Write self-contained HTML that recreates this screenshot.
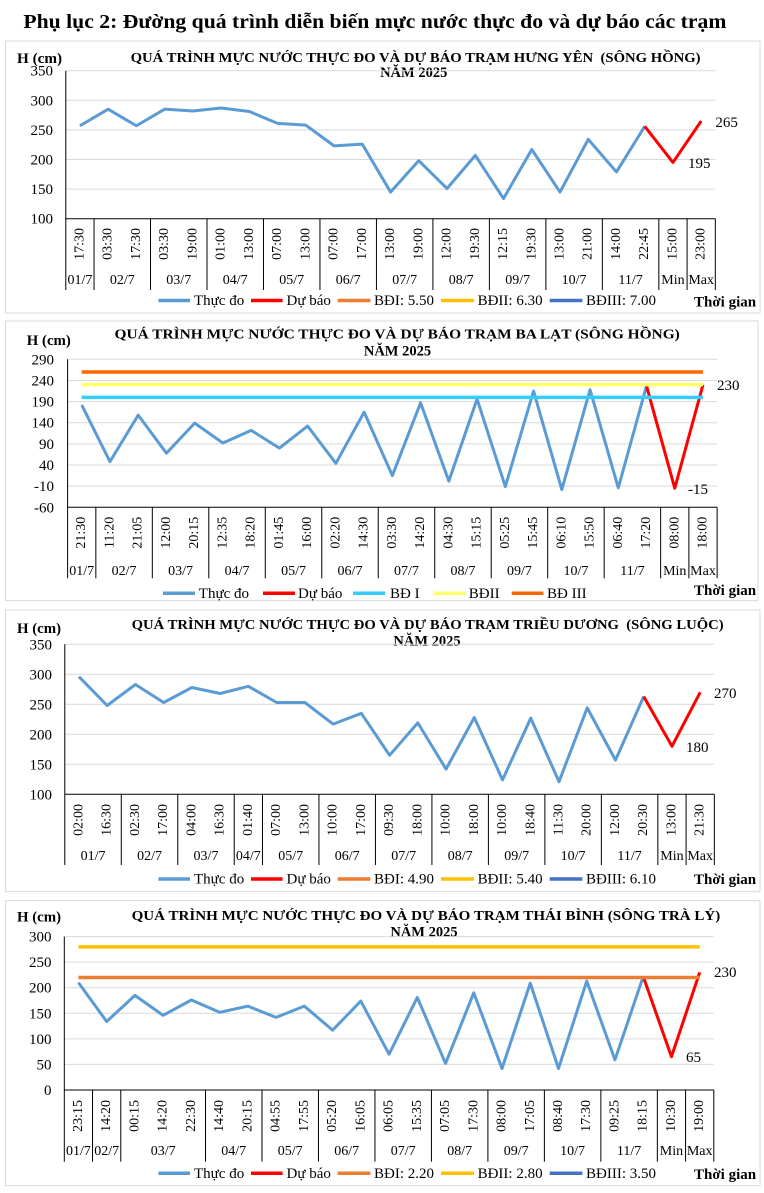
<!DOCTYPE html>
<html><head><meta charset="utf-8"><style>
html,body{margin:0;padding:0;background:#fff;}
svg{display:block;font-family:"Liberation Serif","Times New Roman",serif;}
.b{font-weight:bold;}
.t text{font-size:14px;}
.yl{font-size:15px;}
.lg{font-size:15px;}
.dl{font-size:15px;}
</style></head><body>
<svg width="764" height="1193" viewBox="0 0 764 1193" xmlns="http://www.w3.org/2000/svg">
<rect x="0" y="0" width="764" height="1193" fill="#fff"/>
<text class="b" x="23.4" y="28" font-size="20" textLength="703" lengthAdjust="spacingAndGlyphs">Phụ lục 2: Đường quá trình diễn biến mực nước thực đo và dự báo các trạm</text>

<!-- ================= CHART 1 ================= -->
<rect x="5.5" y="41" width="754.5" height="272" fill="none" stroke="#d9d9d9" stroke-width="1"/>
<text class="b" x="130.6" y="62" font-size="14" textLength="570" lengthAdjust="spacingAndGlyphs" style="white-space:pre">QUÁ TRÌNH MỰC NƯỚC THỰC ĐO VÀ DỰ BÁO TRẠM HƯNG YÊN  (SÔNG HỒNG)</text>
<text class="b" x="413.7" y="77" font-size="14.5" text-anchor="middle">NĂM 2025</text>
<text class="b" x="17" y="63" font-size="15" textLength="45" lengthAdjust="spacingAndGlyphs">H (cm)</text>
<g class="yl" text-anchor="end">
<text x="53" y="75.7">350</text><text x="53" y="105.3">300</text><text x="53" y="134.9">250</text><text x="53" y="164.5">200</text><text x="53" y="194.1">150</text><text x="53" y="223.7">100</text>
</g>
<g transform="translate(65.8,0)">
<g stroke="#d9d9d9" stroke-width="1">
<line x1="0" y1="70.7" x2="649.52" y2="70.7"/><line x1="0" y1="100.3" x2="649.52" y2="100.3"/><line x1="0" y1="129.9" x2="649.52" y2="129.9"/><line x1="0" y1="159.5" x2="649.52" y2="159.5"/><line x1="0" y1="189.1" x2="649.52" y2="189.1"/>
</g>
<g stroke="#000" stroke-width="1">
<line x1="0" y1="70.7" x2="0" y2="290"/><line x1="0" y1="218.7" x2="649.52" y2="218.7"/>
<line x1="28.24" y1="218.7" x2="28.24" y2="290"/><line x1="84.72" y1="218.7" x2="84.72" y2="290"/><line x1="141.2" y1="218.7" x2="141.2" y2="290"/><line x1="197.68" y1="218.7" x2="197.68" y2="290"/><line x1="254.16" y1="218.7" x2="254.16" y2="290"/><line x1="310.64" y1="218.7" x2="310.64" y2="290"/><line x1="367.12" y1="218.7" x2="367.12" y2="290"/><line x1="423.6" y1="218.7" x2="423.6" y2="290"/><line x1="480.08" y1="218.7" x2="480.08" y2="290"/><line x1="536.56" y1="218.7" x2="536.56" y2="290"/><line x1="593.04" y1="218.7" x2="593.04" y2="290"/><line x1="621.28" y1="218.7" x2="621.28" y2="290"/><line x1="649.52" y1="218.7" x2="649.52" y2="290"/>
</g>
<polyline fill="none" stroke="#5b9bd5" stroke-width="3" stroke-linejoin="round" points="14.12,125.76 42.36,109.18 70.60,125.76 98.84,109.18 127.08,110.96 155.32,108.0 183.56,111.55 211.80,123.39 240.04,125.16 268.28,145.88 296.52,144.11 324.76,192.06 353.00,160.68 381.24,188.51 409.48,155.36 437.72,198.57 465.96,149.44 494.20,192.06 522.44,139.37 550.68,171.93 578.92,126.35"/>
<polyline fill="none" stroke="#ff0000" stroke-width="3" stroke-linejoin="round" points="578.92,126.35 607.16,162.46 635.40,121.02"/>
<g class="t" text-anchor="end" dominant-baseline="central">
<text transform="translate(14.12,228) rotate(-90)">17:30</text><text transform="translate(42.36,228) rotate(-90)">03:30</text><text transform="translate(70.60,228) rotate(-90)">17:30</text><text transform="translate(98.84,228) rotate(-90)">03:30</text><text transform="translate(127.08,228) rotate(-90)">19:00</text><text transform="translate(155.32,228) rotate(-90)">01:00</text><text transform="translate(183.56,228) rotate(-90)">13:00</text><text transform="translate(211.80,228) rotate(-90)">07:00</text><text transform="translate(240.04,228) rotate(-90)">13:00</text><text transform="translate(268.28,228) rotate(-90)">07:00</text><text transform="translate(296.52,228) rotate(-90)">17:00</text><text transform="translate(324.76,228) rotate(-90)">13:00</text><text transform="translate(353.00,228) rotate(-90)">19:00</text><text transform="translate(381.24,228) rotate(-90)">12:00</text><text transform="translate(409.48,228) rotate(-90)">19:30</text><text transform="translate(437.72,228) rotate(-90)">12:15</text><text transform="translate(465.96,228) rotate(-90)">19:30</text><text transform="translate(494.20,228) rotate(-90)">13:00</text><text transform="translate(522.44,228) rotate(-90)">21:00</text><text transform="translate(550.68,228) rotate(-90)">14:00</text><text transform="translate(578.92,228) rotate(-90)">22:45</text><text transform="translate(607.16,228) rotate(-90)">15:00</text><text transform="translate(635.40,228) rotate(-90)">23:00</text>
</g>
<g font-size="14" text-anchor="middle">
<text x="14.12" y="284">01/7</text><text x="56.48" y="284">02/7</text><text x="112.96" y="284">03/7</text><text x="169.44" y="284">04/7</text><text x="225.92" y="284">05/7</text><text x="282.4" y="284">06/7</text><text x="338.88" y="284">07/7</text><text x="395.36" y="284">08/7</text><text x="451.84" y="284">09/7</text><text x="508.32" y="284">10/7</text><text x="564.8" y="284">11/7</text><text x="607.16" y="284">Min</text><text x="635.40" y="284">Max</text>
</g>
</g>
<text class="dl" x="715.4" y="127">265</text>
<text class="dl" x="688" y="168">195</text>
<g stroke-width="3.5">
<line x1="158.4" y1="300.5" x2="190" y2="300.5" stroke="#5b9bd5"/><line x1="251" y1="300.5" x2="282.6" y2="300.5" stroke="#ff0000"/><line x1="337.7" y1="300.5" x2="370.4" y2="300.5" stroke="#ed7d31"/><line x1="441" y1="300.5" x2="474" y2="300.5" stroke="#ffc000"/><line x1="549.7" y1="300.5" x2="582.4" y2="300.5" stroke="#4472c4"/>
</g>
<g class="lg">
<text x="194" y="305">Thực đo</text><text x="286.5" y="305">Dự báo</text><text x="374" y="305">BĐI: 5.50</text><text x="477.6" y="305">BĐII: 6.30</text><text x="586" y="305">BĐIII: 7.00</text>
</g>
<text class="b" x="694" y="306.5" font-size="15">Thời gian</text>

<!-- ================= CHART 2 ================= -->
<rect x="5.5" y="321" width="752.5" height="279.7" fill="none" stroke="#d9d9d9" stroke-width="1"/>
<text class="b" x="114.5" y="338.3" font-size="14" textLength="565.3" lengthAdjust="spacingAndGlyphs">QUÁ TRÌNH MỰC NƯỚC THỰC ĐO VÀ DỰ BÁO TRẠM BA LẠT (SÔNG HỒNG)</text>
<text class="b" x="397.5" y="355.7" font-size="14.5" text-anchor="middle">NĂM 2025</text>
<text class="b" x="26.8" y="345" font-size="15" textLength="44" lengthAdjust="spacingAndGlyphs">H (cm)</text>
<g class="yl" text-anchor="end">
<text x="54" y="364.3">290</text><text x="54" y="385.44">240</text><text x="54" y="406.59">190</text><text x="54" y="427.73">140</text><text x="54" y="448.87">90</text><text x="54" y="470.01">40</text><text x="54" y="491.16">-10</text><text x="54" y="512.3">-60</text>
</g>
<g transform="translate(67.6,0)">
<g stroke="#d9d9d9" stroke-width="1">
<line x1="0" y1="359.3" x2="649.52" y2="359.3"/><line x1="0" y1="380.44" x2="649.52" y2="380.44"/><line x1="0" y1="401.59" x2="649.52" y2="401.59"/><line x1="0" y1="422.73" x2="649.52" y2="422.73"/><line x1="0" y1="443.87" x2="649.52" y2="443.87"/><line x1="0" y1="465.01" x2="649.52" y2="465.01"/><line x1="0" y1="486.16" x2="649.52" y2="486.16"/>
</g>
<g stroke="#000" stroke-width="1">
<line x1="0" y1="359.3" x2="0" y2="578.3"/><line x1="0" y1="507.3" x2="649.52" y2="507.3"/>
<line x1="28.24" y1="507.3" x2="28.24" y2="578.3"/><line x1="84.72" y1="507.3" x2="84.72" y2="578.3"/><line x1="141.2" y1="507.3" x2="141.2" y2="578.3"/><line x1="197.68" y1="507.3" x2="197.68" y2="578.3"/><line x1="254.16" y1="507.3" x2="254.16" y2="578.3"/><line x1="310.64" y1="507.3" x2="310.64" y2="578.3"/><line x1="367.12" y1="507.3" x2="367.12" y2="578.3"/><line x1="423.6" y1="507.3" x2="423.6" y2="578.3"/><line x1="480.08" y1="507.3" x2="480.08" y2="578.3"/><line x1="536.56" y1="507.3" x2="536.56" y2="578.3"/><line x1="593.04" y1="507.3" x2="593.04" y2="578.3"/><line x1="621.28" y1="507.3" x2="621.28" y2="578.3"/><line x1="649.52" y1="507.3" x2="649.52" y2="578.3"/>
</g>
<polyline fill="none" stroke="#5b9bd5" stroke-width="3" stroke-linejoin="round" points="14.12,404.97 42.36,461.63 70.60,415.12 98.84,453.17 127.08,423.15 155.32,443.03 183.56,430.34 211.80,448.10 240.04,426.11 268.28,463.32 296.52,412.16 324.76,475.59 353.00,402.85 381.24,481.08 409.48,399.05 437.72,486.58 465.96,391.01 494.20,489.54 522.44,389.75 550.68,487.85 578.92,385.94"/>
<polyline fill="none" stroke="#ff0000" stroke-width="3" stroke-linejoin="round" points="578.92,385.94 607.16,488.27 635.40,384.67"/>
<line x1="14.12" y1="397.36" x2="635.40" y2="397.36" stroke="#33ccff" stroke-width="3.5"/>
<line x1="14.12" y1="384.67" x2="635.40" y2="384.67" stroke="#ffff66" stroke-width="3.5"/>
<line x1="14.12" y1="371.99" x2="635.40" y2="371.99" stroke="#ff6600" stroke-width="3.5"/>
<g class="t" text-anchor="end" dominant-baseline="central">
<text transform="translate(14.12,516.7) rotate(-90)">21:30</text><text transform="translate(42.36,516.7) rotate(-90)">11:20</text><text transform="translate(70.60,516.7) rotate(-90)">21:05</text><text transform="translate(98.84,516.7) rotate(-90)">12:00</text><text transform="translate(127.08,516.7) rotate(-90)">20:15</text><text transform="translate(155.32,516.7) rotate(-90)">12:35</text><text transform="translate(183.56,516.7) rotate(-90)">18:20</text><text transform="translate(211.80,516.7) rotate(-90)">01:45</text><text transform="translate(240.04,516.7) rotate(-90)">16:00</text><text transform="translate(268.28,516.7) rotate(-90)">02:20</text><text transform="translate(296.52,516.7) rotate(-90)">14:30</text><text transform="translate(324.76,516.7) rotate(-90)">03:30</text><text transform="translate(353.00,516.7) rotate(-90)">14:20</text><text transform="translate(381.24,516.7) rotate(-90)">04:30</text><text transform="translate(409.48,516.7) rotate(-90)">15:15</text><text transform="translate(437.72,516.7) rotate(-90)">05:25</text><text transform="translate(465.96,516.7) rotate(-90)">15:45</text><text transform="translate(494.20,516.7) rotate(-90)">06:10</text><text transform="translate(522.44,516.7) rotate(-90)">15:50</text><text transform="translate(550.68,516.7) rotate(-90)">06:40</text><text transform="translate(578.92,516.7) rotate(-90)">17:20</text><text transform="translate(607.16,516.7) rotate(-90)">08:00</text><text transform="translate(635.40,516.7) rotate(-90)">18:00</text>
</g>
<g font-size="14" text-anchor="middle">
<text x="14.12" y="575">01/7</text><text x="56.48" y="575">02/7</text><text x="112.96" y="575">03/7</text><text x="169.44" y="575">04/7</text><text x="225.92" y="575">05/7</text><text x="282.4" y="575">06/7</text><text x="338.88" y="575">07/7</text><text x="395.36" y="575">08/7</text><text x="451.84" y="575">09/7</text><text x="508.32" y="575">10/7</text><text x="564.8" y="575">11/7</text><text x="607.16" y="575">Min</text><text x="635.40" y="575">Max</text>
</g>
</g>
<text class="dl" x="717" y="390">230</text>
<text class="dl" x="688" y="494">-15</text>
<g stroke-width="3.5">
<line x1="163" y1="593.3" x2="195" y2="593.3" stroke="#5b9bd5"/><line x1="263" y1="593.3" x2="295" y2="593.3" stroke="#ff0000"/><line x1="353" y1="593.3" x2="385" y2="593.3" stroke="#33ccff"/><line x1="433.7" y1="593.3" x2="465.4" y2="593.3" stroke="#ffff66"/><line x1="511.7" y1="593.3" x2="543.4" y2="593.3" stroke="#ff6600"/>
</g>
<g class="lg">
<text x="198.8" y="598">Thực đo</text><text x="298" y="598">Dự báo</text><text x="390" y="598">BĐ I</text><text x="468.8" y="598">BĐII</text><text x="547" y="598">BĐ III</text>
</g>
<text class="b" x="694" y="595" font-size="15">Thời gian</text>

<!-- ================= CHART 3 ================= -->
<rect x="5.5" y="610" width="754.5" height="281.7" fill="none" stroke="#d9d9d9" stroke-width="1"/>
<text class="b" x="131.6" y="629" font-size="14" textLength="592" lengthAdjust="spacingAndGlyphs" style="white-space:pre">QUÁ TRÌNH MỰC NƯỚC THỰC ĐO VÀ DỰ BÁO TRẠM TRIỀU DƯƠNG  (SÔNG LUỘC)</text>
<text class="b" x="427" y="645.7" font-size="14.5" text-anchor="middle">NĂM 2025</text>
<text class="b" x="17" y="633" font-size="15" textLength="44" lengthAdjust="spacingAndGlyphs">H (cm)</text>
<g class="yl" text-anchor="end">
<text x="52" y="649.3">350</text><text x="52" y="679.3">300</text><text x="52" y="709.3">250</text><text x="52" y="739.3">200</text><text x="52" y="769.3">150</text><text x="52" y="799.3">100</text>
</g>
<g transform="translate(64.8,0)">
<g stroke="#d9d9d9" stroke-width="1">
<line x1="0" y1="644.3" x2="649.52" y2="644.3"/><line x1="0" y1="674.3" x2="649.52" y2="674.3"/><line x1="0" y1="704.3" x2="649.52" y2="704.3"/><line x1="0" y1="734.3" x2="649.52" y2="734.3"/><line x1="0" y1="764.3" x2="649.52" y2="764.3"/>
</g>
<g stroke="#000" stroke-width="1">
<line x1="0" y1="644.3" x2="0" y2="865"/><line x1="0" y1="794.3" x2="649.52" y2="794.3"/>
<line x1="56.48" y1="794.3" x2="56.48" y2="865"/><line x1="112.96" y1="794.3" x2="112.96" y2="865"/><line x1="169.44" y1="794.3" x2="169.44" y2="865"/><line x1="197.68" y1="794.3" x2="197.68" y2="865"/><line x1="254.16" y1="794.3" x2="254.16" y2="865"/><line x1="310.64" y1="794.3" x2="310.64" y2="865"/><line x1="367.12" y1="794.3" x2="367.12" y2="865"/><line x1="423.6" y1="794.3" x2="423.6" y2="865"/><line x1="480.08" y1="794.3" x2="480.08" y2="865"/><line x1="536.56" y1="794.3" x2="536.56" y2="865"/><line x1="593.04" y1="794.3" x2="593.04" y2="865"/><line x1="621.28" y1="794.3" x2="621.28" y2="865"/><line x1="649.52" y1="794.3" x2="649.52" y2="865"/>
</g>
<polyline fill="none" stroke="#5b9bd5" stroke-width="3" stroke-linejoin="round" points="14.12,676.7 42.36,705.5 70.60,684.5 98.84,702.5 127.08,687.5 155.32,693.5 183.56,686.3 211.80,702.5 240.04,702.5 268.28,724.1 296.52,713.3 324.76,755.3 353.00,722.9 381.24,769.1 409.48,717.5 437.72,779.9 465.96,718.1 494.20,781.7 522.44,707.9 550.68,760.1 578.92,696.5"/>
<polyline fill="none" stroke="#ff0000" stroke-width="3" stroke-linejoin="round" points="578.92,696.5 607.16,746.3 635.40,692.3"/>
<g class="t" text-anchor="end" dominant-baseline="central">
<text transform="translate(14.12,804) rotate(-90)">02:00</text><text transform="translate(42.36,804) rotate(-90)">16:30</text><text transform="translate(70.60,804) rotate(-90)">02:30</text><text transform="translate(98.84,804) rotate(-90)">17:00</text><text transform="translate(127.08,804) rotate(-90)">04:00</text><text transform="translate(155.32,804) rotate(-90)">16:30</text><text transform="translate(183.56,804) rotate(-90)">01:40</text><text transform="translate(211.80,804) rotate(-90)">07:00</text><text transform="translate(240.04,804) rotate(-90)">13:00</text><text transform="translate(268.28,804) rotate(-90)">10:00</text><text transform="translate(296.52,804) rotate(-90)">17:00</text><text transform="translate(324.76,804) rotate(-90)">09:30</text><text transform="translate(353.00,804) rotate(-90)">18:00</text><text transform="translate(381.24,804) rotate(-90)">10:00</text><text transform="translate(409.48,804) rotate(-90)">18:00</text><text transform="translate(437.72,804) rotate(-90)">10:00</text><text transform="translate(465.96,804) rotate(-90)">18:40</text><text transform="translate(494.20,804) rotate(-90)">11:30</text><text transform="translate(522.44,804) rotate(-90)">20:00</text><text transform="translate(550.68,804) rotate(-90)">12:00</text><text transform="translate(578.92,804) rotate(-90)">20:30</text><text transform="translate(607.16,804) rotate(-90)">13:00</text><text transform="translate(635.40,804) rotate(-90)">21:30</text>
</g>
<g font-size="14" text-anchor="middle">
<text x="28.24" y="860">01/7</text><text x="84.72" y="860">02/7</text><text x="141.2" y="860">03/7</text><text x="183.56" y="860">04/7</text><text x="225.92" y="860">05/7</text><text x="282.4" y="860">06/7</text><text x="338.88" y="860">07/7</text><text x="395.36" y="860">08/7</text><text x="451.84" y="860">09/7</text><text x="508.32" y="860">10/7</text><text x="564.8" y="860">11/7</text><text x="607.16" y="860">Min</text><text x="635.40" y="860">Max</text>
</g>
</g>
<text class="dl" x="714" y="698">270</text>
<text class="dl" x="686" y="752">180</text>
<g stroke-width="3.5">
<line x1="158.4" y1="879" x2="190" y2="879" stroke="#5b9bd5"/><line x1="251" y1="879" x2="282.6" y2="879" stroke="#ff0000"/><line x1="337.7" y1="879" x2="370.4" y2="879" stroke="#ed7d31"/><line x1="441" y1="879" x2="474" y2="879" stroke="#ffc000"/><line x1="549.7" y1="879" x2="582.4" y2="879" stroke="#4472c4"/>
</g>
<g class="lg">
<text x="194" y="883.5">Thực đo</text><text x="286.5" y="883.5">Dự báo</text><text x="374" y="883.5">BĐI: 4.90</text><text x="477.6" y="883.5">BĐII: 5.40</text><text x="586" y="883.5">BĐIII: 6.10</text>
</g>
<text class="b" x="694" y="884" font-size="15">Thời gian</text>

<!-- ================= CHART 4 ================= -->
<rect x="5.5" y="900.7" width="754.5" height="285" fill="none" stroke="#d9d9d9" stroke-width="1"/>
<text class="b" x="131.6" y="920" font-size="14" textLength="588.7" lengthAdjust="spacingAndGlyphs">QUÁ TRÌNH MỰC NƯỚC THỰC ĐO VÀ DỰ BÁO TRẠM THÁI BÌNH (SÔNG TRÀ LÝ)</text>
<text class="b" x="424" y="936.7" font-size="14.5" text-anchor="middle">NĂM 2025</text>
<text class="b" x="17" y="921.7" font-size="15" textLength="44" lengthAdjust="spacingAndGlyphs">H (cm)</text>
<g class="yl" text-anchor="end">
<text x="51.5" y="941.6">300</text><text x="51.5" y="967.17">250</text><text x="51.5" y="992.73">200</text><text x="51.5" y="1018.3">150</text><text x="51.5" y="1043.87">100</text><text x="51.5" y="1069.43">50</text><text x="51.5" y="1095">0</text>
</g>
<g transform="translate(64.3,0)">
<g stroke="#d9d9d9" stroke-width="1">
<line x1="0" y1="936.6" x2="649.52" y2="936.6"/><line x1="0" y1="962.17" x2="649.52" y2="962.17"/><line x1="0" y1="987.73" x2="649.52" y2="987.73"/><line x1="0" y1="1013.3" x2="649.52" y2="1013.3"/><line x1="0" y1="1038.87" x2="649.52" y2="1038.87"/><line x1="0" y1="1064.43" x2="649.52" y2="1064.43"/>
</g>
<g stroke="#000" stroke-width="1">
<line x1="0" y1="936.6" x2="0" y2="1161.7"/><line x1="0" y1="1090" x2="649.52" y2="1090"/>
<line x1="28.24" y1="1090" x2="28.24" y2="1161.7"/><line x1="56.48" y1="1090" x2="56.48" y2="1161.7"/><line x1="141.2" y1="1090" x2="141.2" y2="1161.7"/><line x1="197.68" y1="1090" x2="197.68" y2="1161.7"/><line x1="254.16" y1="1090" x2="254.16" y2="1161.7"/><line x1="310.64" y1="1090" x2="310.64" y2="1161.7"/><line x1="367.12" y1="1090" x2="367.12" y2="1161.7"/><line x1="423.6" y1="1090" x2="423.6" y2="1161.7"/><line x1="480.08" y1="1090" x2="480.08" y2="1161.7"/><line x1="536.56" y1="1090" x2="536.56" y2="1161.7"/><line x1="593.04" y1="1090" x2="593.04" y2="1161.7"/><line x1="621.28" y1="1090" x2="621.28" y2="1161.7"/><line x1="649.52" y1="1090" x2="649.52" y2="1161.7"/>
</g>
<polyline fill="none" stroke="#5b9bd5" stroke-width="3" stroke-linejoin="round" points="14.12,982.62 42.36,1021.48 70.60,995.4 98.84,1015.35 127.08,1000.0 155.32,1012.28 183.56,1006.14 211.80,1017.39 240.04,1006.14 268.28,1030.17 296.52,1001.03 324.76,1054.21 353.00,997.45 381.24,1063.41 409.48,992.85 437.72,1068.52 465.96,983.13 494.20,1068.52 522.44,981.09 550.68,1059.83 578.92,976.48"/>
<polyline fill="none" stroke="#ff0000" stroke-width="3" stroke-linejoin="round" points="578.92,976.48 607.16,1056.76 635.40,972.39"/>
<line x1="14.12" y1="977.51" x2="635.40" y2="977.51" stroke="#ed7d31" stroke-width="3.5"/>
<line x1="14.12" y1="946.83" x2="635.40" y2="946.83" stroke="#ffc000" stroke-width="3.5"/>
<g class="t" text-anchor="end" dominant-baseline="central">
<text transform="translate(14.12,1100) rotate(-90)">23:15</text><text transform="translate(42.36,1100) rotate(-90)">14:20</text><text transform="translate(70.60,1100) rotate(-90)">00:15</text><text transform="translate(98.84,1100) rotate(-90)">14:20</text><text transform="translate(127.08,1100) rotate(-90)">22:30</text><text transform="translate(155.32,1100) rotate(-90)">14:40</text><text transform="translate(183.56,1100) rotate(-90)">20:15</text><text transform="translate(211.80,1100) rotate(-90)">04:55</text><text transform="translate(240.04,1100) rotate(-90)">17:55</text><text transform="translate(268.28,1100) rotate(-90)">05:20</text><text transform="translate(296.52,1100) rotate(-90)">16:05</text><text transform="translate(324.76,1100) rotate(-90)">06:05</text><text transform="translate(353.00,1100) rotate(-90)">15:35</text><text transform="translate(381.24,1100) rotate(-90)">07:05</text><text transform="translate(409.48,1100) rotate(-90)">17:30</text><text transform="translate(437.72,1100) rotate(-90)">08:00</text><text transform="translate(465.96,1100) rotate(-90)">17:05</text><text transform="translate(494.20,1100) rotate(-90)">08:40</text><text transform="translate(522.44,1100) rotate(-90)">17:30</text><text transform="translate(550.68,1100) rotate(-90)">09:25</text><text transform="translate(578.92,1100) rotate(-90)">18:15</text><text transform="translate(607.16,1100) rotate(-90)">10:30</text><text transform="translate(635.40,1100) rotate(-90)">19:00</text>
</g>
<g font-size="14" text-anchor="middle">
<text x="14.12" y="1155">01/7</text><text x="42.36" y="1155">02/7</text><text x="98.84" y="1155">03/7</text><text x="169.44" y="1155">04/7</text><text x="225.92" y="1155">05/7</text><text x="282.4" y="1155">06/7</text><text x="338.88" y="1155">07/7</text><text x="395.36" y="1155">08/7</text><text x="451.84" y="1155">09/7</text><text x="508.32" y="1155">10/7</text><text x="564.8" y="1155">11/7</text><text x="607.16" y="1155">Min</text><text x="635.40" y="1155">Max</text>
</g>
</g>
<text class="dl" x="714" y="977">230</text>
<text class="dl" x="686" y="1062">65</text>
<g stroke-width="3.5">
<line x1="158.4" y1="1173.3" x2="190" y2="1173.3" stroke="#5b9bd5"/><line x1="251" y1="1173.3" x2="282.6" y2="1173.3" stroke="#ff0000"/><line x1="337.7" y1="1173.3" x2="370.4" y2="1173.3" stroke="#ed7d31"/><line x1="441" y1="1173.3" x2="474" y2="1173.3" stroke="#ffc000"/><line x1="549.7" y1="1173.3" x2="582.4" y2="1173.3" stroke="#4472c4"/>
</g>
<g class="lg">
<text x="194" y="1178">Thực đo</text><text x="286.5" y="1178">Dự báo</text><text x="374" y="1178">BĐI: 2.20</text><text x="477.6" y="1178">BĐII: 2.80</text><text x="586" y="1178">BĐIII: 3.50</text>
</g>
<text class="b" x="694" y="1179" font-size="15">Thời gian</text>
</svg>
</body></html>
